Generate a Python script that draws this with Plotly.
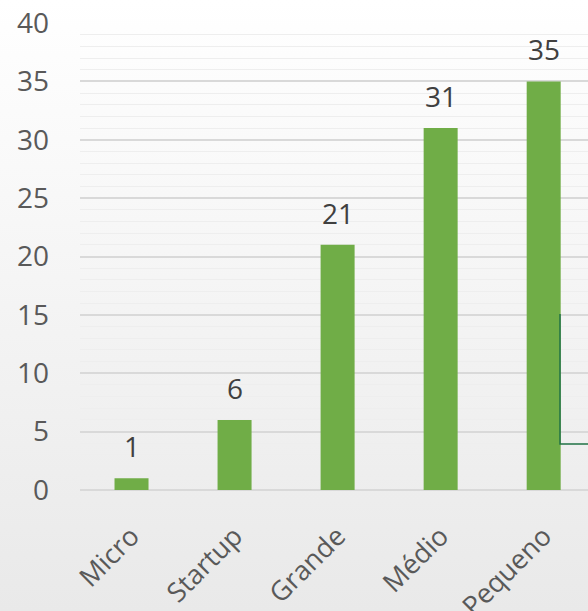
import base64
import plotly.graph_objects as go

categories = ["Micro", "Startup", "Grande", "Médio", "Pequeno"]
values = [1, 6, 21, 31, 35]
y_ticks = [0, 5, 10, 15, 20, 25, 30, 35, 40]

svg = ('<svg xmlns="http://www.w3.org/2000/svg" width="100" height="100" preserveAspectRatio="none">'
       '<defs><linearGradient id="g" x1="0" y1="0" x2="0" y2="1">'
       '<stop offset="0" stop-color="#ffffff"/><stop offset="1" stop-color="#e9e9e9"/>'
       '</linearGradient></defs><rect width="100" height="100" fill="url(#g)"/></svg>')
bg = "data:image/svg+xml;base64," + base64.b64encode(svg.encode()).decode()

FONT = "Open Sans"

fig = go.Figure(go.Bar(
    x=categories, y=values, marker_color="#70ad47",
    marker_line_width=0, width=0.33,
))

for c, v in zip(categories, values):
    fig.add_annotation(x=c, y=v, text=str(v), showarrow=False,
                       yanchor="bottom", yshift=11,
                       font=dict(size=28, color="#404040", family=FONT))

W, H = 588, 611
L, R, T, B = 80, 0, 23, 121
pw, ph = W - L - R, H - T - B

fig.update_layout(
    width=W, height=H,
    margin=dict(l=L, r=R, t=T, b=B, autoexpand=False),
    paper_bgcolor="#f2f2f2", plot_bgcolor="rgba(0,0,0,0)",
    showlegend=False,
    font=dict(family=FONT, color="#595959", size=27),
    images=[dict(source=bg, xref="paper", yref="paper",
                 x=-L / pw, y=1 + T / ph, sizex=W / pw, sizey=H / ph,
                 sizing="stretch", layer="below", xanchor="left", yanchor="top")],
    shapes=[dict(type="path", xref="paper", yref="paper",
                 path=f"M {(560-L)/pw} {(490-314)/ph} L {(560-L)/pw} {(490-444)/ph} L 1 {(490-444)/ph}",
                 line=dict(color="#217346", width=1.5))],
)
fig.update_xaxes(range=[-0.5, 4.43], tickangle=-45, showgrid=False, ticks="",
                 ticklabelstandoff=24, automargin=False,
                 tickfont=dict(size=27, color="#595959"), showline=False)
fig.update_yaxes(range=[0, 40], tickvals=y_ticks, showgrid=True, gridcolor="#d9d9d9",
                 gridwidth=1.5, zeroline=True, zerolinecolor="#d9d9d9", zerolinewidth=1.5,
                 ticks="", ticklabelstandoff=30, automargin=False,
                 tickfont=dict(size=28, color="#595959"),
                 minor=dict(dtick=1, showgrid=True, gridcolor="#eeeeee", gridwidth=1))
fig.write_html("out.html", config={"displayModeBar": False},
               post_script="document.body.style.margin='0';")
